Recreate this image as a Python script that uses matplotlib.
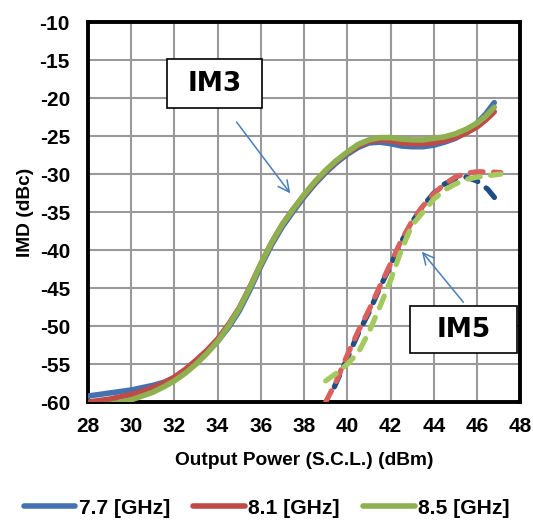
import numpy as np
import matplotlib.pyplot as plt
from matplotlib.patches import Rectangle

# IM3 curves (solid), output power in dBm vs IMD in dBc
im3_x = [28, 28.5, 29, 29.5, 30, 30.5, 31, 31.5, 32, 32.5, 33, 33.5, 34, 34.5, 35, 35.5,
         36, 36.5, 37, 37.5, 38, 38.5, 39, 39.5, 40, 40.5, 41, 41.5, 42, 42.5, 43, 43.5,
         44, 44.5, 45, 45.5, 46, 46.4, 46.8]
im3_77 = [-59.2, -59.0, -58.8, -58.6, -58.4, -58.1, -57.8, -57.4, -56.8, -55.9, -54.8, -53.5,
          -52.0, -50.2, -48.0, -45.2, -42.1, -39.3, -36.9, -34.9, -33.0, -31.3, -29.8, -28.5,
          -27.4, -26.5, -25.9, -25.8, -26.0, -26.3, -26.4, -26.4, -26.2, -25.8, -25.3, -24.5,
          -23.3, -22.1, -20.6]
im3_81 = [-60.0, -59.8, -59.6, -59.3, -59.0, -58.6, -58.1, -57.5, -56.7, -55.7, -54.5, -53.2,
          -51.7, -49.8, -47.6, -44.8, -41.8, -39.0, -36.6, -34.6, -32.8, -31.1, -29.6, -28.3,
          -27.2, -26.3, -25.7, -25.5, -25.6, -25.9, -26.0, -26.0, -25.9, -25.6, -25.2, -24.6,
          -23.8, -22.9, -21.8]
im3_85 = [-61.0, -60.6, -60.3, -60.0, -59.7, -59.2, -58.7, -58.0, -57.2, -56.2, -55.0, -53.6,
          -52.0, -50.0, -47.7, -44.9, -41.8, -39.0, -36.6, -34.6, -32.7, -31.0, -29.5, -28.2,
          -27.1, -26.1, -25.5, -25.2, -25.2, -25.4, -25.5, -25.5, -25.3, -25.1, -24.7, -24.1,
          -23.3, -22.4, -21.2]

# IM5 curves (dashed)
im5_77_x = [39.4, 40, 40.5, 41, 41.5, 42, 42.5, 43, 43.5, 44, 44.5, 45, 45.5, 46, 46.5, 46.9]
im5_77 = [-58.0, -54.2, -51.0, -48.2, -45.0, -42.0, -38.9, -36.3, -34.2, -32.5, -31.3, -30.6,
          -30.4, -30.9, -32.0, -33.4]
im5_81_x = [39.0, 39.5, 40, 40.5, 41, 41.5, 42, 42.5, 43, 43.5, 44, 44.5, 45, 45.5, 46, 46.5, 47.1]
im5_81 = [-60.0, -57.2, -53.8, -50.7, -47.9, -44.8, -41.8, -38.7, -36.2, -34.2, -32.6, -31.3,
          -30.4, -29.9, -29.7, -29.7, -29.8]
im5_85_x = [39.0, 39.5, 40, 40.5, 41, 41.5, 42, 42.5, 43, 43.5, 44, 44.5, 45, 45.5, 46, 46.5, 47.1]
im5_85 = [-57.2, -56.2, -55.0, -53.5, -50.8, -47.5, -44.0, -40.0, -36.7, -35.0, -33.3, -32.1,
          -31.3, -30.7, -30.4, -30.2, -30.0]

labels = ['7.7 [GHz]', '8.1 [GHz]', '8.5 [GHz]']
solid_colors = ['#4472B0', '#BE4B48', '#8FB04F']
dash_colors = ['#1F4E85', '#D9605C', '#A4C95E']

plt.rcParams['font.family'] = ['Liberation Sans', 'DejaVu Sans']
plt.rcParams['font.weight'] = 'bold'
plt.rcParams['axes.unicode_minus'] = False

fig = plt.figure(figsize=(5.33, 5.25), dpi=100)
ax = fig.add_axes([0.165, 0.234, 0.811, 0.724])

for y, c, lab in zip([im3_77, im3_81, im3_85], solid_colors, labels):
    ax.plot(im3_x, y, color=c, lw=4, solid_capstyle='round', label=lab, zorder=3)

for xs, y, c in zip([im5_77_x, im5_81_x, im5_85_x], [im5_77, im5_81, im5_85], dash_colors):
    ax.plot(xs, y, color=c, lw=3.8, ls=(0, (2.4, 2.0)), dash_capstyle='round', zorder=3)

ax.set_xlim(28, 48)
ax.set_ylim(-60, -10)
ax.set_xticks(np.arange(28, 49, 2))
ax.set_yticks(np.arange(-60, -9, 5))
ax.grid(True, color='#999999', lw=1.5)
ax.set_axisbelow(True)
for s in ax.spines.values():
    s.set_linewidth(2.8)
    s.set_color('black')
ax.tick_params(length=0, labelsize=15)
ax.tick_params(axis='x', pad=11)
ax.tick_params(axis='y', pad=13)
ax.set_xlabel('Output Power (S.C.L.) (dBm)', fontsize=13.8, fontweight='bold', labelpad=11)
ax.set_ylabel('IMD (dBc)', fontsize=13.8, fontweight='bold', labelpad=4)

# annotation boxes and arrows
ax.add_patch(Rectangle((31.66, -21.29), 4.40, 6.43, fc='white', ec='black', lw=1.2, zorder=5))
ax.text(33.86, -18.1, 'IM3', fontsize=19, fontweight='bold', family='DejaVu Sans',
        ha='center', va='center', zorder=6)
ax.annotate('', xy=(37.44, -32.83), xytext=(34.8, -22.86),
            arrowprops=dict(arrowstyle='->', color='#4A7EBB', lw=1.1, mutation_scale=20))
ax.add_patch(Rectangle((42.91, -53.57), 4.95, 6.17, fc='white', ec='black', lw=1.2, zorder=5))
ax.text(45.38, -50.5, 'IM5', fontsize=19, fontweight='bold', family='DejaVu Sans',
        ha='center', va='center', zorder=6)
ax.annotate('', xy=(43.37, -39.92), xytext=(45.45, -47.14),
            arrowprops=dict(arrowstyle='->', color='#4A7EBB', lw=1.1, mutation_scale=20))

fig.legend(loc='center', bbox_to_anchor=(0.5, 0.032), ncol=3, frameon=False,
           handlelength=2.45, handletextpad=0.15, columnspacing=1.1,
           prop={'size': 15.2, 'weight': 'bold'})

fig.savefig('out.png', dpi=100)
